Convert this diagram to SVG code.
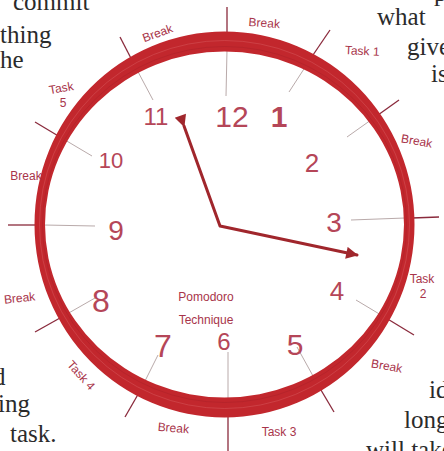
<svg xmlns="http://www.w3.org/2000/svg" width="444" height="451" viewBox="0 0 444 451">
<style>
.page{font-family:"Liberation Serif","DejaVu Serif",serif;font-size:25px;fill:#2b2b2b}
.hand{font-family:"Liberation Sans","DejaVu Sans",sans-serif;fill:#a8344a}
.lbl{font-size:12px;text-anchor:middle}
.num{text-anchor:middle;fill:#b54658}
.out{stroke:#8a2a3c;stroke-width:1.3;fill:none}
.in{stroke:#b9aaaa;stroke-width:1;fill:none}
.hnd{stroke:#a0262c;stroke-width:3;fill:none;stroke-linecap:round;stroke-linejoin:round}
</style>
<defs>
<marker id="ah" viewBox="0 0 10 10" refX="9" refY="5" markerWidth="5" markerHeight="4" orient="auto" markerUnits="strokeWidth">
<path d="M0,0 L10,5 L0,10 Z" fill="#a0262c"/>
</marker>
</defs>
<rect width="444" height="451" fill="#ffffff"/>
<g id="page-text" class="page">
<text x="13" y="10">commit</text>
<text x="0" y="43">thing</text>
<text x="0" y="68">he</text>
<text x="434" y="1">p</text>
<text x="377" y="25">what</text>
<text x="407" y="55">give</text>
<text x="431" y="82">is</text>
<text x="-7" y="385">d</text>
<text x="-2" y="412">ing</text>
<text x="10" y="442">task.</text>
<text x="429" y="398">id</text>
<text x="404" y="428">long</text>
<text x="366" y="458">will take</text>
</g>
<g id="dividers">
<line class="in" x1="226" y1="96" x2="227" y2="50"/><line class="out" x1="227" y1="34" x2="227" y2="7"/>
<line class="in" x1="289" y1="92" x2="313" y2="55"/><line class="out" x1="313" y1="55" x2="330" y2="30"/>
<line class="in" x1="347" y1="137" x2="378" y2="115"/><line class="out" x1="378" y1="115" x2="399" y2="100"/>
<line class="in" x1="351" y1="220" x2="405" y2="218"/><line class="out" x1="412" y1="218" x2="439" y2="217"/>
<line class="in" x1="356" y1="300" x2="386" y2="318"/><line class="out" x1="386" y1="318" x2="414" y2="335"/>
<line class="in" x1="297" y1="347" x2="318" y2="385"/><line class="out" x1="318" y1="385" x2="334" y2="412"/>
<line class="in" x1="228" y1="352" x2="228" y2="400"/><line class="out" x1="228" y1="416" x2="228" y2="451"/>
<line class="in" x1="158" y1="355" x2="140" y2="391"/><line class="out" x1="140" y1="391" x2="125" y2="417"/>
<line class="in" x1="95" y1="298" x2="60" y2="318"/><line class="out" x1="60" y1="318" x2="35" y2="332"/>
<line class="in" x1="95" y1="226" x2="44" y2="225"/><line class="out" x1="36" y1="225" x2="8" y2="225"/>
<line class="in" x1="92" y1="156" x2="60" y2="137"/><line class="out" x1="60" y1="137" x2="35" y2="122"/>
<line class="in" x1="153" y1="100" x2="136" y2="68"/><line class="out" x1="136" y1="68" x2="120" y2="37"/>
</g>
<g id="ring">
<path fill="#c2272d" fill-rule="evenodd" d="M34.5,224.5 A190,193 0 1,0 414.5,224.5 A190,193 0 1,0 34.5,224.5 Z M45,224.5 A179.5,173 0 1,1 404,224.5 A179.5,173 0 1,1 45,224.5 Z"/>
<ellipse cx="224.5" cy="224.5" rx="185" ry="184" fill="none" stroke="#d65a5f" stroke-width="0.8" opacity="0.6"/>
<ellipse cx="224.5" cy="224.5" rx="182" ry="178" fill="none" stroke="#a81f27" stroke-width="0.8" opacity="0.6"/>
</g>
<g id="numbers" class="hand">
<text class="num" x="156" y="125" font-size="24">11</text>
<text class="num" x="232" y="127" font-size="30">12</text>
<text class="num" x="279" y="127" font-size="30" font-weight="bold" fill="#a8242c">1</text>
<text class="num" x="312" y="172" font-size="26">2</text>
<text class="num" x="334" y="232" font-size="28">3</text>
<text class="num" x="337" y="300" font-size="26">4</text>
<text class="num" x="295" y="355" font-size="30">5</text>
<text class="num" x="224" y="350" font-size="24">6</text>
<text class="num" x="163" y="357" font-size="32">7</text>
<text class="num" x="101" y="312" font-size="32">8</text>
<text class="num" x="116" y="240" font-size="28">9</text>
<text class="num" x="111" y="168" font-size="22">10</text>
</g>
<g id="labels" class="hand">
<text class="lbl" transform="translate(159,37) rotate(-20)" font-size="13">Break</text>
<text class="lbl" transform="translate(264,27) rotate(4)" font-size="14">Break</text>
<text class="lbl" transform="translate(362,55) rotate(3)" font-size="11">Task 1</text>
<text class="lbl" transform="translate(416,145) rotate(10)" font-size="10">Break</text>
<text class="lbl" x="422" y="283" font-size="11">Task</text>
<text class="lbl" x="423" y="298" font-size="13">2</text>
<text class="lbl" transform="translate(386,370) rotate(10)" font-size="12">Break</text>
<text class="lbl" x="279" y="436" font-size="13">Task 3</text>
<text class="lbl" transform="translate(173,432) rotate(5)" font-size="12">Break</text>
<text class="lbl" transform="translate(78,378) rotate(48)" font-size="13">Task 4</text>
<text class="lbl" transform="translate(20,302) rotate(-6)" font-size="11">Break</text>
<text class="lbl" x="26" y="180" font-size="13">Break</text>
<text class="lbl" transform="translate(62,92) rotate(-10)" font-size="12">Task</text>
<text class="lbl" x="63" y="107" font-size="12">5</text>
<text class="lbl" x="206" y="301" font-size="12">Pomodoro</text>
<text class="lbl" x="206" y="324" font-size="10">Technique</text>
</g>
<g id="hands">
<polyline class="hnd" points="184,126 220,226 357,255" marker-start="url(#ah)" marker-end="url(#ah)"/>
</g>
</svg>
